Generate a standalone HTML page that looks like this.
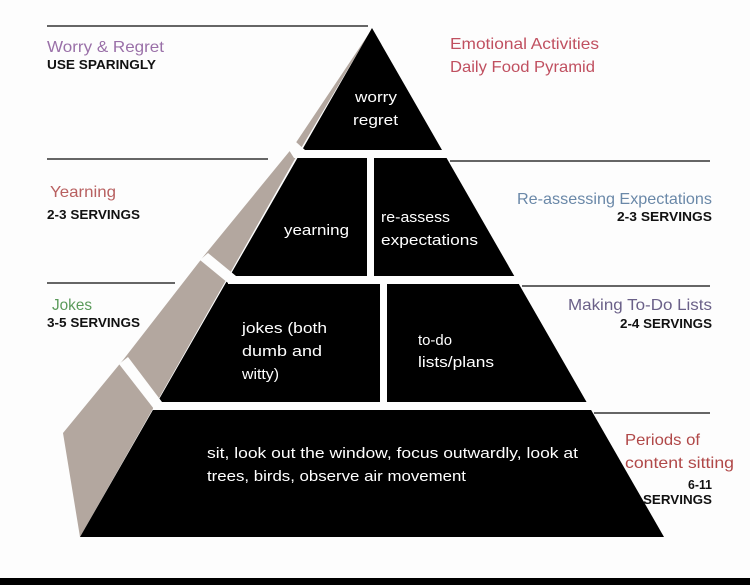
<!DOCTYPE html>
<html><head><meta charset="utf-8"><style>
html,body{margin:0;padding:0;background:#fdfdfd;width:750px;height:585px;overflow:hidden}
svg{display:block}
text{font-family:"Liberation Sans",sans-serif}
.w{fill:#fff;font-size:15px}
.b{fill:#111;font-size:12.5px;font-weight:bold}
.l{font-size:16px}
</style></head><body>
<svg width="750" height="585" viewBox="0 0 750 585">
<rect width="750" height="585" fill="#fdfdfd"/>
<g stroke="#666" stroke-width="2">
<line x1="47" y1="26" x2="368" y2="26"/>
<line x1="47" y1="159" x2="268" y2="159"/>
<line x1="47" y1="283" x2="175" y2="283"/>
<line x1="450" y1="161" x2="710" y2="161"/>
<line x1="522" y1="286" x2="710" y2="286"/>
<line x1="594" y1="413" x2="710" y2="413"/>
</g>
<!-- gray side face -->
<polygon points="370,32 293,147 203,257 123,360 63,433 80,537 300,150" fill="#b3a79f"/>
<!-- black body -->
<polygon points="372,28 664,537 80,537" fill="#000"/>
<!-- white gaps -->
<g fill="#fdfdfd">
<polygon points="287,147 296,142 305,150 450,150 455,158 294,158"/>
<polygon points="200,260 208,253 236,276 228,283"/>
<rect x="228" y="276" width="300" height="8"/>
<polygon points="119,364 128,357 162,402 154,409"/>
<rect x="153" y="402" width="450" height="8"/>
<rect x="367" y="158" width="7" height="118"/>
<rect x="380" y="284" width="7" height="118"/>
</g>
<text class="w" x="355" y="102" textLength="42" lengthAdjust="spacingAndGlyphs">worry</text>
<text class="w" x="353" y="125" textLength="45" lengthAdjust="spacingAndGlyphs">regret</text>
<text class="w" x="284" y="235" textLength="65" lengthAdjust="spacingAndGlyphs">yearning</text>
<text class="w" x="381" y="222" textLength="69" lengthAdjust="spacingAndGlyphs">re-assess</text>
<text class="w" x="381" y="245" textLength="97" lengthAdjust="spacingAndGlyphs">expectations</text>
<text class="w" x="242" y="333" textLength="85" lengthAdjust="spacingAndGlyphs">jokes (both</text>
<text class="w" x="242" y="356" textLength="80" lengthAdjust="spacingAndGlyphs">dumb and</text>
<text class="w" x="242" y="379" textLength="37" lengthAdjust="spacingAndGlyphs">witty)</text>
<text class="w" x="418" y="345" textLength="34" lengthAdjust="spacingAndGlyphs">to-do</text>
<text class="w" x="418" y="367" textLength="76" lengthAdjust="spacingAndGlyphs">lists/plans</text>
<text class="w" x="207" y="458" textLength="371" lengthAdjust="spacingAndGlyphs">sit, look out the window, focus outwardly, look at</text>
<text class="w" x="207" y="481" textLength="259" lengthAdjust="spacingAndGlyphs">trees, birds, observe air movement</text>
<text class="l" x="47" y="52" fill="#9a70a8" textLength="117" lengthAdjust="spacingAndGlyphs">Worry &amp; Regret</text>
<text class="b" x="47" y="69" textLength="109" lengthAdjust="spacingAndGlyphs">USE SPARINGLY</text>
<text class="l" x="50" y="197" fill="#b86060" textLength="66" lengthAdjust="spacingAndGlyphs">Yearning</text>
<text class="b" x="47" y="219" textLength="93" lengthAdjust="spacingAndGlyphs">2-3 SERVINGS</text>
<text class="l" x="52" y="310" fill="#5a9a5a" textLength="40" lengthAdjust="spacingAndGlyphs">Jokes</text>
<text class="b" x="47" y="327" textLength="93" lengthAdjust="spacingAndGlyphs">3-5 SERVINGS</text>
<text class="l" x="450" y="49" fill="#c05060" textLength="149" lengthAdjust="spacingAndGlyphs">Emotional Activities</text>
<text class="l" x="450" y="72" fill="#c05060" textLength="145" lengthAdjust="spacingAndGlyphs">Daily Food Pyramid</text>
<text class="l" x="517" y="204" fill="#6a88a8" textLength="195" lengthAdjust="spacingAndGlyphs">Re-assessing Expectations</text>
<text class="b" x="617" y="221" textLength="95" lengthAdjust="spacingAndGlyphs">2-3 SERVINGS</text>
<text class="l" x="568" y="310" fill="#6a6088" textLength="144" lengthAdjust="spacingAndGlyphs">Making To-Do Lists</text>
<text class="b" x="620" y="328" textLength="92" lengthAdjust="spacingAndGlyphs">2-4 SERVINGS</text>
<text class="l" x="625" y="445" fill="#b04848" textLength="75" lengthAdjust="spacingAndGlyphs">Periods of</text>
<text class="l" x="625" y="468" fill="#b04848" textLength="109" lengthAdjust="spacingAndGlyphs">content sitting</text>
<text class="b" x="688" y="489" textLength="24" lengthAdjust="spacingAndGlyphs">6-11</text>
<text class="b" x="643" y="504" textLength="69" lengthAdjust="spacingAndGlyphs">SERVINGS</text>
<rect x="0" y="578" width="750" height="7" fill="#000"/>
</svg>
</body></html>
